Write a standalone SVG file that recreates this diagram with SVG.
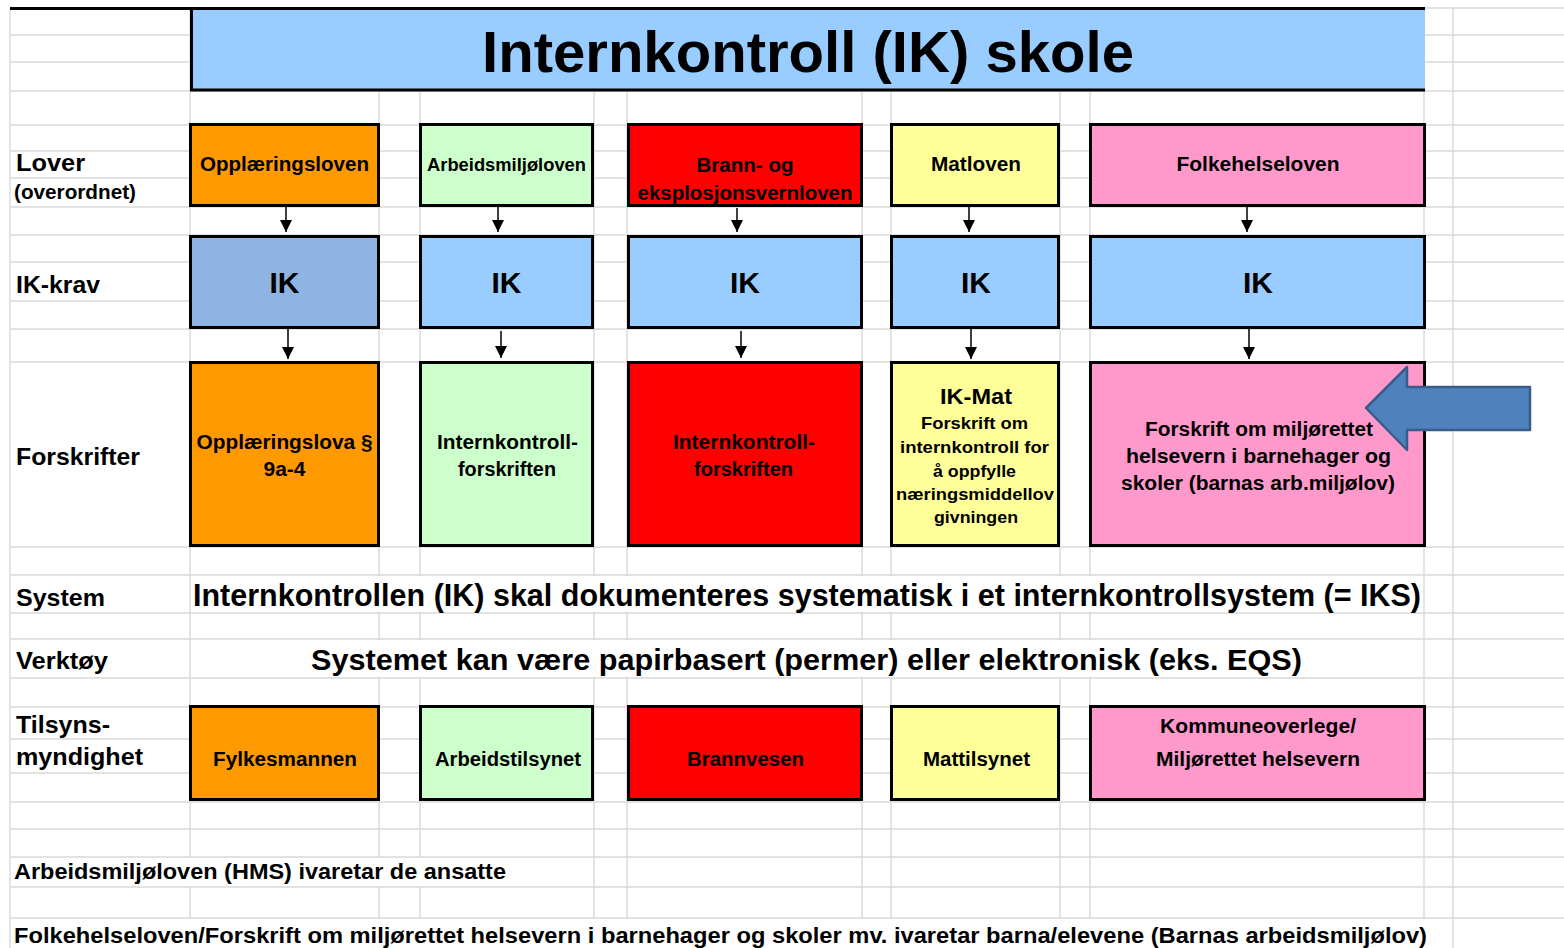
<svg xmlns="http://www.w3.org/2000/svg" width="1564" height="948" viewBox="0 0 1564 948">
<style>
.g{stroke:#d9d9d9;stroke-width:1.4;fill:none}
.box{stroke:#000;stroke-width:3}
.t{font-family:"Liberation Sans",Arial,Helvetica,sans-serif;font-weight:bold;fill:#000}
.c{text-anchor:middle}
.or{fill:#ff9900}.gr{fill:#ccffcc}.rd{fill:#ff0000}.ye{fill:#ffff99}.pk{fill:#ff99cc}.bl{fill:#99ccff}.bd{fill:#8db4e2}
.conn{stroke:#000;stroke-width:1.5;fill:none}
</style>
<defs>
<marker id="ah" markerUnits="userSpaceOnUse" markerWidth="12" markerHeight="12" refX="12" refY="6" orient="auto">
<path d="M0,0 L12,6 L0,12 z" fill="#000"/>
</marker>
</defs>
<rect width="1564" height="948" fill="#fff"/>
<g id="grid">
<path class="g" d="M10,8H1564M10,35H1564M10,62H1564M10,91H1564M10,125H1564M10,151H1564M10,178H1564M10,207H1564M10,235H1564M10,262H1564M10,301H1564M10,329H1564M10,362H1564M10,547H1564M10,575H1564M10,613H1564M10,639H1564M10,678H1564M10,707H1564M10,739H1564M10,773H1564M10,802H1564M10,829H1564M10,857H1564M10,887H1564M10,918H1564"/>
<path class="g" d="M10,8V948M190,8V948M379,8V948M420,8V948M594,8V948M627,8V948M862,8V948M891,8V948M1060,8V948M1090,8V948M1424,8V948M1453,8V948"/>
<rect x="191" y="576" width="1232" height="36" fill="#fff"/>
<rect x="191" y="640" width="1232" height="37" fill="#fff"/>
<rect x="11" y="858" width="582" height="28" fill="#fff"/>
<rect x="11" y="919" width="1441" height="29" fill="#fff"/>
</g>
<g id="title">
<rect x="190" y="8" width="1235" height="83" class="bl"/>
<path d="M10,8.5H1425M191.5,8V91M190,90H1425" stroke="#000" stroke-width="3" fill="none"/>
<text class="t c" x="808" y="72" font-size="58" textLength="652" lengthAdjust="spacingAndGlyphs">Internkontroll (IK) skole</text>
</g>
<g id="labels">
<text class="t" x="16" y="171" font-size="24" textLength="69" lengthAdjust="spacingAndGlyphs">Lover</text>
<text class="t" x="14" y="199" font-size="19.5" textLength="122" lengthAdjust="spacingAndGlyphs">(overordnet)</text>
<text class="t" x="16" y="293" font-size="24" textLength="84" lengthAdjust="spacingAndGlyphs">IK-krav</text>
<text class="t" x="16" y="465" font-size="24" textLength="124" lengthAdjust="spacingAndGlyphs">Forskrifter</text>
<text class="t" x="16" y="606" font-size="24" textLength="89" lengthAdjust="spacingAndGlyphs">System</text>
<text class="t" x="16" y="669" font-size="24" textLength="92" lengthAdjust="spacingAndGlyphs">Verktøy</text>
<text class="t" x="16" y="733" font-size="24" textLength="94" lengthAdjust="spacingAndGlyphs">Tilsyns-</text>
<text class="t" x="16" y="765" font-size="24" textLength="127" lengthAdjust="spacingAndGlyphs">myndighet</text>
</g>
<g id="lov-opplaering">
<rect class="box or" x="190.5" y="124.5" width="188" height="81"/>
<text class="t c" x="284.5" y="171" font-size="20" textLength="169" lengthAdjust="spacingAndGlyphs">Opplæringsloven</text>
</g>
<g id="lov-arbeidsmiljo">
<rect class="box gr" x="420.5" y="124.5" width="172" height="81"/>
<text class="t c" x="506.5" y="171" font-size="18" textLength="159" lengthAdjust="spacingAndGlyphs">Arbeidsmiljøloven</text>
</g>
<g id="lov-brann">
<rect class="box rd" x="628.5" y="124.5" width="233" height="81"/>
<text class="t c" x="745" y="172" font-size="20" textLength="97" lengthAdjust="spacingAndGlyphs">Brann- og</text>
<text class="t c" x="745" y="200" font-size="20" textLength="215" lengthAdjust="spacingAndGlyphs">eksplosjonsvernloven</text>
</g>
<g id="lov-mat">
<rect class="box ye" x="891.5" y="124.5" width="167" height="81"/>
<text class="t c" x="976" y="171" font-size="20" textLength="90" lengthAdjust="spacingAndGlyphs">Matloven</text>
</g>
<g id="lov-folkehelse">
<rect class="box pk" x="1090.5" y="124.5" width="334" height="81"/>
<text class="t c" x="1258" y="171" font-size="20" textLength="163" lengthAdjust="spacingAndGlyphs">Folkehelseloven</text>
</g>
<g id="ik-1">
<rect class="box bd" x="190.5" y="236.5" width="188" height="91"/>
<text class="t c" x="284.5" y="293" font-size="30">IK</text>
</g>
<g id="ik-2">
<rect class="box bl" x="420.5" y="236.5" width="172" height="91"/>
<text class="t c" x="506.5" y="293" font-size="30">IK</text>
</g>
<g id="ik-3">
<rect class="box bl" x="628.5" y="236.5" width="233" height="91"/>
<text class="t c" x="745" y="293" font-size="30">IK</text>
</g>
<g id="ik-4">
<rect class="box bl" x="891.5" y="236.5" width="167" height="91"/>
<text class="t c" x="976" y="293" font-size="30">IK</text>
</g>
<g id="ik-5">
<rect class="box bl" x="1090.5" y="236.5" width="334" height="91"/>
<text class="t c" x="1258" y="293" font-size="30">IK</text>
</g>
<g id="forskrift-opplaering">
<rect class="box or" x="190.5" y="362.5" width="188" height="183"/>
<text class="t c" x="284.5" y="449" font-size="20" textLength="176" lengthAdjust="spacingAndGlyphs">Opplæringslova §</text>
<text class="t c" x="284.5" y="476" font-size="20" textLength="42" lengthAdjust="spacingAndGlyphs">9a-4</text>
</g>
<g id="forskrift-ik-arbeid">
<rect class="box gr" x="420.5" y="362.5" width="172" height="183"/>
<text class="t c" x="507.5" y="449" font-size="20" textLength="141" lengthAdjust="spacingAndGlyphs">Internkontroll-</text>
<text class="t c" x="507" y="476" font-size="20" textLength="98" lengthAdjust="spacingAndGlyphs">forskriften</text>
</g>
<g id="forskrift-ik-brann">
<rect class="box rd" x="628.5" y="362.5" width="233" height="183"/>
<text class="t c" x="744" y="449" font-size="20" textLength="142" lengthAdjust="spacingAndGlyphs">Internkontroll-</text>
<text class="t c" x="743.5" y="476" font-size="20" textLength="99" lengthAdjust="spacingAndGlyphs">forskriften</text>
</g>
<g id="forskrift-ikmat">
<rect class="box ye" x="891.5" y="362.5" width="167" height="183"/>
<text class="t c" x="976" y="404" font-size="22" textLength="72" lengthAdjust="spacingAndGlyphs">IK-Mat</text>
<text class="t c" x="974.5" y="429" font-size="17" textLength="107" lengthAdjust="spacingAndGlyphs">Forskrift om</text>
<text class="t c" x="974.5" y="453" font-size="17" textLength="149" lengthAdjust="spacingAndGlyphs">internkontroll for</text>
<text class="t c" x="974.5" y="477" font-size="17" textLength="83" lengthAdjust="spacingAndGlyphs">å oppfylle</text>
<text class="t c" x="975" y="500" font-size="17" textLength="158" lengthAdjust="spacingAndGlyphs">næringsmiddellov</text>
<text class="t c" x="976" y="523" font-size="17" textLength="84" lengthAdjust="spacingAndGlyphs">givningen</text>
</g>
<g id="forskrift-miljo">
<rect class="box pk" x="1090.5" y="362.5" width="334" height="183"/>
<text class="t c" x="1259" y="436" font-size="20" textLength="228" lengthAdjust="spacingAndGlyphs">Forskrift om miljørettet</text>
<text class="t c" x="1258.5" y="463" font-size="20" textLength="265" lengthAdjust="spacingAndGlyphs">helsevern i barnehager og</text>
<text class="t c" x="1258" y="490" font-size="20" textLength="274" lengthAdjust="spacingAndGlyphs">skoler (barnas arb.miljølov)</text>
</g>
<g id="callout-arrow">
<polygon points="1366,408 1407,367 1407,387 1530,387 1530,430 1407,430 1407,450" fill="#4f81bd" stroke="#385d8a" stroke-width="2.5" stroke-linejoin="round"/>
</g>
<g id="system-text">
<text class="t" x="193" y="606" font-size="30.5" textLength="1228" lengthAdjust="spacingAndGlyphs">Internkontrollen (IK) skal dokumenteres systematisk i et internkontrollsystem (= IKS)</text>
</g>
<g id="verktoy-text">
<text class="t c" x="806.5" y="670" font-size="29" textLength="991" lengthAdjust="spacingAndGlyphs">Systemet kan være papirbasert (permer) eller elektronisk (eks. EQS)</text>
</g>
<g id="tilsyn-fylkesmannen">
<rect class="box or" x="190.5" y="706.5" width="188" height="93"/>
<text class="t c" x="285" y="766" font-size="20" textLength="144" lengthAdjust="spacingAndGlyphs">Fylkesmannen</text>
</g>
<g id="tilsyn-arbeidstilsynet">
<rect class="box gr" x="420.5" y="706.5" width="172" height="93"/>
<text class="t c" x="508" y="766" font-size="20" textLength="146" lengthAdjust="spacingAndGlyphs">Arbeidstilsynet</text>
</g>
<g id="tilsyn-brannvesen">
<rect class="box rd" x="628.5" y="706.5" width="233" height="93"/>
<text class="t c" x="745.5" y="766" font-size="20" textLength="117" lengthAdjust="spacingAndGlyphs">Brannvesen</text>
</g>
<g id="tilsyn-mattilsynet">
<rect class="box ye" x="891.5" y="706.5" width="167" height="93"/>
<text class="t c" x="976.5" y="766" font-size="20" textLength="107" lengthAdjust="spacingAndGlyphs">Mattilsynet</text>
</g>
<g id="tilsyn-kommuneoverlege">
<rect class="box pk" x="1090.5" y="706.5" width="334" height="93"/>
<text class="t c" x="1258" y="733" font-size="20" textLength="196" lengthAdjust="spacingAndGlyphs">Kommuneoverlege/</text>
<text class="t c" x="1258" y="766" font-size="20" textLength="204" lengthAdjust="spacingAndGlyphs">Miljørettet helsevern</text>
</g>
<g id="footer">
<text class="t" x="14" y="879" font-size="22" textLength="492" lengthAdjust="spacingAndGlyphs">Arbeidsmiljøloven (HMS) ivaretar de ansatte</text>
<text class="t" x="14" y="943" font-size="22" textLength="1413" lengthAdjust="spacingAndGlyphs">Folkehelseloven/Forskrift om miljørettet helsevern i barnehager og skoler mv. ivaretar barna/elevene (Barnas arbeidsmiljølov)</text>
</g>
<g id="connectors">
<line class="conn" x1="286" y1="207" x2="286" y2="232" marker-end="url(#ah)"/>
<line class="conn" x1="498" y1="207" x2="498" y2="232" marker-end="url(#ah)"/>
<line class="conn" x1="737" y1="208" x2="737" y2="232" marker-end="url(#ah)"/>
<line class="conn" x1="969" y1="207" x2="969" y2="232" marker-end="url(#ah)"/>
<line class="conn" x1="1247" y1="207" x2="1247" y2="232" marker-end="url(#ah)"/>
<line class="conn" x1="288" y1="329" x2="288" y2="359" marker-end="url(#ah)"/>
<line class="conn" x1="501" y1="331" x2="501" y2="358" marker-end="url(#ah)"/>
<line class="conn" x1="741" y1="331" x2="741" y2="358" marker-end="url(#ah)"/>
<line class="conn" x1="971" y1="329" x2="971" y2="359" marker-end="url(#ah)"/>
<line class="conn" x1="1249" y1="329" x2="1249" y2="359" marker-end="url(#ah)"/>
</g>
</svg>
